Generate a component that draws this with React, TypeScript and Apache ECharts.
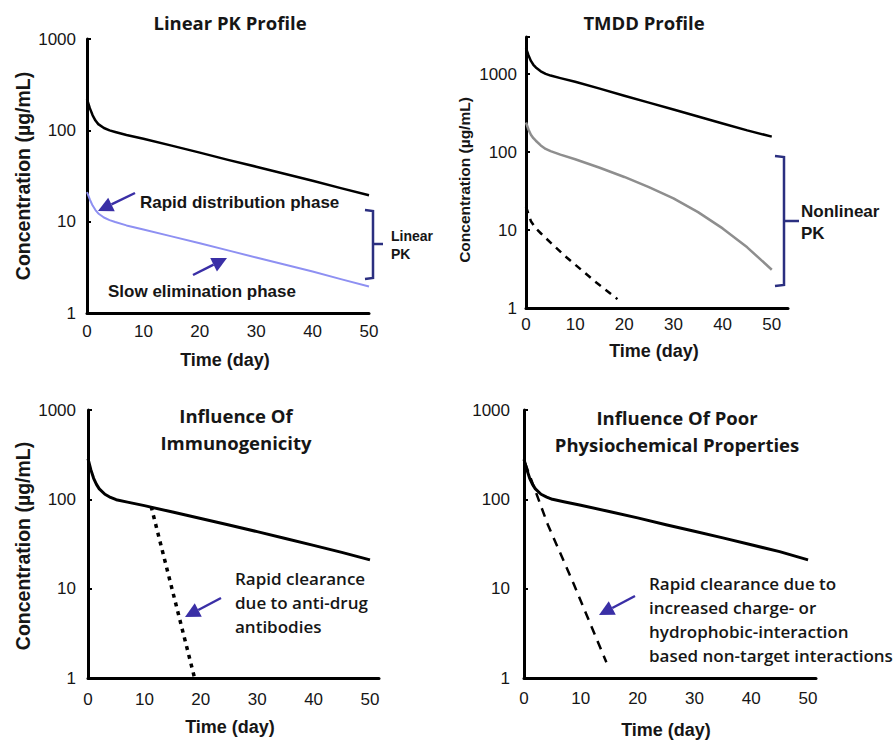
import React, { useEffect, useRef } from "react";
import * as echarts from "echarts";

// ---------- data ----------
const days = [0, 0.5, 1, 1.5, 2, 3, 4, 5, 7, 10, 15, 20, 25, 30, 35, 40, 45, 50];

// Panel 1: Linear PK profile
const linearHighDose = [220, 175, 146, 128, 117, 106, 100, 96, 89, 81, 68, 57, 47.5, 40, 33.5, 28, 23.3, 19.5];
const linearLowDose = [21, 17.5, 15, 13.4, 12.3, 11.1, 10.4, 9.9, 9.1, 8.2, 6.9, 5.8, 4.85, 4.05, 3.4, 2.85, 2.35, 1.95];

// Panel 2: TMDD profile
const tmddHighDose = [2150, 1750, 1480, 1320, 1220, 1090, 1010, 960, 890, 800, 652, 530, 432, 352, 287, 233, 190, 158];
const tmddMidDose = [240, 195, 167, 151, 140, 122, 110, 103, 93, 81, 63, 48, 35.5, 25.5, 17, 10.5, 6, 3.1];
const tmddLowDays = [0, 0.5, 1, 2, 3, 5, 8, 10, 14, 18.6];
const tmddLowDose = [20, 16, 13, 10.5, 9.1, 6.9, 4.6, 3.6, 2.2, 1.3];

// Panel 3: Immunogenicity
const immunoNormal = [285, 215, 172, 147, 131, 114, 105, 99, 93, 85, 72, 61, 51.5, 43.5, 36.5, 30.5, 25.5, 21];
const immunoAdaDays = [11.2, 18.9];
const immunoAda = [83, 1];

// Panel 4: Poor physicochemical properties
const physNormal = [280, 215, 172, 147, 131, 114, 106, 100, 94, 86, 73, 62, 52, 44, 37, 31, 26, 21];
const physFastDays = [0.2, 4.2, 8.7, 14.5];
const physFast = [254, 52, 11.5, 1.5];

const xTicks = [0, 10, 20, 30, 40, 50];
const yTicks = [1, 10, 100, 1000];

const pair = (xs: number[], ys: number[]) => xs.map((x, i) => [x, ys[i]]);

const TICK_FONT = "'Liberation Sans', Arial, sans-serif";
const CAL_FONT = "'Open Sans', 'Liberation Sans', sans-serif";
const INK = "#161616";
const ARROW = "#3a2fa6";
const BRACKET = "#2b2f80";

function xAxisDef(grid: number, max: number, margin: number) {
  return {
    type: "value",
    gridIndex: grid,
    min: 0,
    max,
    interval: 10,
    axisLine: { show: true, lineStyle: { color: "#000", width: 3 } },
    axisTick: { show: false },
    splitLine: { show: false },
    axisLabel: {
      margin,
      fontSize: 17,
      fontFamily: TICK_FONT,
      color: INK,
      showMaxLabel: true,
      formatter: (v: number) => (xTicks.includes(Math.round(v)) && Math.abs(v - Math.round(v)) < 1e-6 ? String(Math.round(v)) : ""),
    },
  };
}

function yAxisDef(grid: number, max: number, margin: number) {
  return {
    type: "log",
    logBase: 10,
    gridIndex: grid,
    min: 1,
    max,
    axisLine: { show: true, lineStyle: { color: "#000", width: 3 } },
    axisTick: { show: true, inside: true, length: 4, lineStyle: { color: "#000", width: 2 } },
    splitLine: { show: false },
    minorTick: { show: false },
    axisLabel: {
      margin,
      fontSize: 17,
      fontFamily: TICK_FONT,
      color: INK,
      formatter: (v: number) => {
        const r = Math.round(v);
        return yTicks.includes(r) && Math.abs(v - r) < 1e-6 * Math.max(1, r) ? String(r) : "";
      },
    },
  };
}

function line(xi: number, data: number[][], color: string, width: number, type: any = "solid") {
  return {
    type: "line",
    xAxisIndex: xi,
    yAxisIndex: xi,
    data,
    showSymbol: false,
    symbol: "none",
    smooth: false,
    lineStyle: { color, width, type, cap: "butt", join: "round" },
    z: 3,
  };
}

function text(x: number, y: number, t: string, font: string, extra: any = {}, styleExtra: any = {}) {
  return {
    type: "text",
    x,
    y,
    z: 10,
    ...extra,
    style: {
      text: t,
      font,
      fill: INK,
      textAlign: "center",
      textVerticalAlign: "middle",
      ...styleExtra,
    },
  };
}

function arrow(x1: number, y1: number, x2: number, y2: number) {
  const ang = Math.atan2(y2 - y1, x2 - x1);
  const L = 15;
  const W = 7.5;
  const bx = x2 - L * Math.cos(ang);
  const by = y2 - L * Math.sin(ang);
  const px = -Math.sin(ang);
  const py = Math.cos(ang);
  return [
    { type: "line", z: 10, shape: { x1, y1, x2: bx, y2: by }, style: { stroke: ARROW, lineWidth: 2.5 } },
    {
      type: "polygon",
      z: 10,
      shape: { points: [[x2, y2], [bx + px * W, by + py * W], [bx - px * W, by - py * W]] },
      style: { fill: ARROW },
    },
  ];
}

function bracket(x: number, top: number, bottom: number, mid: number, serif: number, nub: number) {
  return [
    {
      type: "polyline",
      z: 10,
      shape: { points: [[x - serif, top], [x, top + 1], [x, bottom - 1], [x - serif, bottom]] },
      style: { stroke: BRACKET, lineWidth: 2.5, fill: null },
    },
    { type: "line", z: 10, shape: { x1: x, y1: mid, x2: x + nub, y2: mid }, style: { stroke: BRACKET, lineWidth: 2.5 } },
  ];
}

const TITLE = `bold 18.5px ${CAL_FONT}`;
const NOTE = `600 17px ${CAL_FONT}`;

export default function App() {
  const ref = useRef<HTMLDivElement>(null);
  useEffect(() => {
    if (!ref.current) return;
    const chart = echarts.init(ref.current, null, { renderer: "svg" });
    const option: any = {
      animation: false,
      backgroundColor: "#fff",
      grid: [
        { left: 87, top: 39, width: 282, height: 274 },
        { left: 526, top: 37, width: 262, height: 271 },
        { left: 88, top: 410, width: 291, height: 268 },
        { left: 524, top: 410, width: 292, height: 268 },
      ],
      xAxis: [xAxisDef(0, 50, 10), xAxisDef(1, 53.3, 8), xAxisDef(2, 51.6, 13), xAxisDef(3, 51.4, 12)],
      yAxis: [yAxisDef(0, 1000, 11), yAxisDef(1, 3000, 9), yAxisDef(2, 1000, 12), yAxisDef(3, 1000, 14)],
      series: [
        line(0, pair(days, linearHighDose), "#000", 2.5),
        line(0, pair(days, linearLowDose), "#8e90f2", 2),
        line(1, pair(days, tmddHighDose), "#000", 2.5),
        line(1, pair(days, tmddMidDose), "#8e8e8e", 2.5),
        line(1, pair(tmddLowDays, tmddLowDose), "#000", 2.5, [7, 6]),
        line(2, pair(days, immunoNormal), "#000", 3),
        line(2, pair(immunoAdaDays, immunoAda), "#000", 3.5, [4, 5]),
        line(3, pair(days, physNormal), "#000", 3),
        line(3, pair(physFastDays, physFast), "#000", 2.5, [9, 7]),
      ],
      graphic: [
        // titles
        text(230, 22, "Linear PK Profile", TITLE),
        text(644, 22, "TMDD Profile", TITLE),
        text(236, 415, "Influence Of", TITLE),
        text(236, 442, "Immunogenicity", TITLE),
        text(677, 417, "Influence Of Poor", TITLE),
        text(677, 444, "Physiochemical Properties", TITLE),
        // axis names
        text(225, 360, "Time (day)", `bold 18px ${TICK_FONT}`),
        text(654, 351, "Time (day)", `bold 18px ${TICK_FONT}`),
        text(230, 727, "Time (day)", `bold 18px ${TICK_FONT}`),
        text(666, 730, "Time (day)", `bold 18px ${TICK_FONT}`),
        text(23, 176, "Concentration (µg/mL)", `bold 19.5px ${TICK_FONT}`, { rotation: Math.PI / 2 }),
        text(464, 180, "Concentration (µg/mL)", `bold 15.5px ${TICK_FONT}`, { rotation: Math.PI / 2 }),
        text(23, 546, "Concentration (µg/mL)", `bold 19.5px ${TICK_FONT}`, { rotation: Math.PI / 2 }),
        // panel 1 annotations
        text(140, 202, "Rapid distribution phase", `bold 17px ${TICK_FONT}`, {}, { textAlign: "left" }),
        text(108, 291, "Slow elimination phase", `bold 17px ${TICK_FONT}`, {}, { textAlign: "left" }),
        ...arrow(135, 193, 98, 211),
        ...arrow(193, 275, 227, 258),
        ...bracket(373, 210, 279, 244, 8, 10),
        text(391, 236, "Linear", `bold 14px ${TICK_FONT}`, {}, { textAlign: "left" }),
        text(391, 254, "PK", `bold 14px ${TICK_FONT}`, {}, { textAlign: "left" }),
        // panel 2 annotations
        ...bracket(784, 156, 286, 221, 9, 15),
        text(801, 211, "Nonlinear", `bold 17px ${TICK_FONT}`, {}, { textAlign: "left" }),
        text(801, 233, "PK", `bold 17px ${TICK_FONT}`, {}, { textAlign: "left" }),
        // panel 3 annotations
        text(235, 578, "Rapid clearance", NOTE, {}, { textAlign: "left" }),
        text(235, 602, "due to anti-drug", NOTE, {}, { textAlign: "left" }),
        text(235, 626, "antibodies", NOTE, {}, { textAlign: "left" }),
        ...arrow(221, 598, 185, 617),
        // panel 4 annotations
        text(649, 583, "Rapid clearance due to", NOTE, {}, { textAlign: "left" }),
        text(649, 607, "increased charge- or", NOTE, {}, { textAlign: "left" }),
        text(649, 631, "hydrophobic-interaction", NOTE, {}, { textAlign: "left" }),
        text(649, 655, "based non-target interactions", NOTE, {}, { textAlign: "left" }),
        ...arrow(635, 596, 599, 615),
      ],
    };
    chart.setOption(option);
    return () => chart.dispose();
  }, []);
  return <div ref={ref} style={{ position: "fixed", left: 0, top: 0, width: 894, height: 740, background: "#fff" }} />;
}
